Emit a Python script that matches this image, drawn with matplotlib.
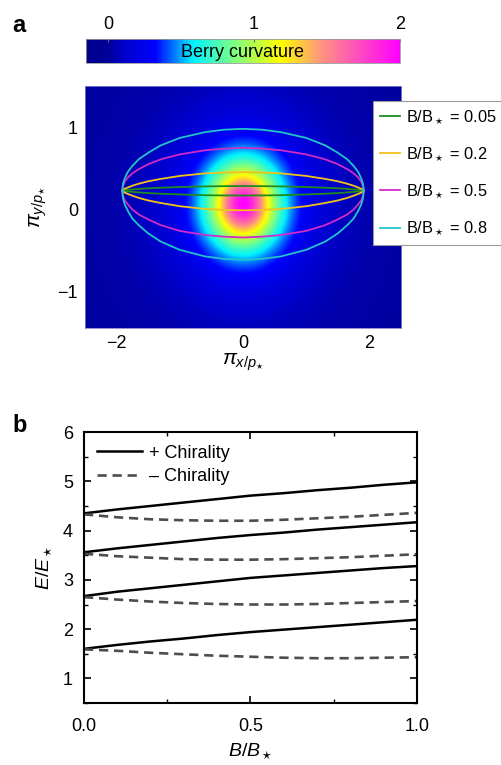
import numpy as np
import matplotlib
matplotlib.use("Agg")
import matplotlib.pyplot as plt
from matplotlib.colors import LinearSegmentedColormap

plt.rcParams['font.family'] = ['Liberation Sans', 'DejaVu Sans']
plt.rcParams['mathtext.fontset'] = 'custom'
plt.rcParams['mathtext.rm'] = 'Liberation Sans'
plt.rcParams['mathtext.it'] = 'Liberation Sans:italic'
plt.rcParams['mathtext.bf'] = 'Liberation Sans:bold'

# ---- panel a: Berry curvature map + orbits ----
# Berry curvature peak / shape parameters
omega_peak = 2.0
omega_center = (0.0, 0.06)
omega_width = (0.60, 0.55)
omega_min, omega_max = -0.15, 2.0

orbit_half_x = [-1.91, -1.9, -1.87, -1.82, -1.75, -1.65, -1.5, -1.3, -1.0, -0.6, -0.3, 0.0]
orbit_labels = ["0.05", "0.2", "0.5", "0.8"]
orbit_colors = ['#1e8c1e', '#f2c21c', '#d22cc8', '#22c4cc']
orbit_top_half = [
    [0.23, 0.233, 0.236, 0.239, 0.244, 0.25, 0.258, 0.265, 0.273, 0.281, 0.284, 0.285],
    [0.23, 0.241, 0.252, 0.268, 0.289, 0.313, 0.343, 0.372, 0.408, 0.439, 0.45, 0.455],
    [0.23, 0.28, 0.34, 0.39, 0.44, 0.49, 0.55, 0.61, 0.67, 0.72, 0.74, 0.75],
    [0.23, 0.31, 0.38, 0.46, 0.53, 0.61, 0.69, 0.78, 0.87, 0.94, 0.97, 0.98],
]
orbit_bottom_half = [
    [0.23, 0.227, 0.224, 0.22, 0.214, 0.208, 0.2, 0.192, 0.183, 0.174, 0.171, 0.17],
    [0.23, 0.218, 0.206, 0.189, 0.168, 0.141, 0.11, 0.079, 0.04, 0.007, -0.005, -0.01],
    [0.23, 0.17, 0.11, 0.06, 0.0, -0.06, -0.12, -0.19, -0.26, -0.31, -0.33, -0.34],
    [0.23, 0.14, 0.06, -0.02, -0.11, -0.19, -0.29, -0.39, -0.49, -0.57, -0.60, -0.61],
]

# ---- panel b: Landau levels vs field ----
B = [0.0, 0.1, 0.2, 0.3, 0.4, 0.5, 0.6, 0.7, 0.8, 0.9, 1.0]
plus_levels = [
    [1.60, 1.68, 1.75, 1.81, 1.88, 1.94, 1.99, 2.04, 2.09, 2.14, 2.19],
    [2.67, 2.76, 2.83, 2.90, 2.97, 3.04, 3.09, 3.14, 3.19, 3.24, 3.28],
    [3.56, 3.64, 3.71, 3.78, 3.85, 3.91, 3.96, 4.02, 4.07, 4.12, 4.17],
    [4.35, 4.43, 4.50, 4.57, 4.64, 4.71, 4.76, 4.82, 4.87, 4.93, 4.98],
]
minus_levels = [
    [1.59, 1.56, 1.52, 1.49, 1.46, 1.44, 1.42, 1.41, 1.41, 1.42, 1.43],
    [2.65, 2.60, 2.56, 2.53, 2.51, 2.50, 2.50, 2.51, 2.53, 2.55, 2.57],
    [3.53, 3.48, 3.45, 3.42, 3.41, 3.41, 3.42, 3.44, 3.46, 3.49, 3.52],
    [4.33, 4.27, 4.23, 4.21, 4.20, 4.20, 4.22, 4.25, 4.28, 4.32, 4.36],
]

cmap = LinearSegmentedColormap.from_list("berry", [
    (0.00, (0.0, 0.0, 0.55)),
    (0.07, (0.0, 0.0, 0.60)),
    (0.12, (0.0, 0.0, 0.80)),
    (0.22, (0.0, 0.0, 1.0)),
    (0.34, (0.0, 0.95, 1.0)),
    (0.46, (0.45, 1.0, 0.55)),
    (0.62, (1.0, 1.0, 0.0)),
    (0.75, (1.0, 0.58, 0.5)),
    (0.87, (1.0, 0.3, 0.75)),
    (1.00, (1.0, 0.0, 1.0)),
])

fig = plt.figure(figsize=(5.02, 7.65), dpi=100)

xx, yy = np.meshgrid(np.linspace(-2.5, 2.5, 400), np.linspace(-1.44, 1.5, 300))
s = ((xx - omega_center[0]) / omega_width[0])**2 + ((yy - omega_center[1]) / omega_width[1])**2
omega = omega_peak / (1 + s)**1.5

ax1 = fig.add_axes([0.1693, 0.5712, 0.6295, 0.3163])
im = ax1.imshow(omega, extent=[-2.5, 2.5, -1.44, 1.5], origin='lower', aspect='auto',
                cmap=cmap, vmin=omega_min, vmax=omega_max, interpolation='bilinear')
ox = np.concatenate([orbit_half_x, -np.array(orbit_half_x[-2::-1])])
handles = []
for i in range(len(orbit_labels)):
    top = np.concatenate([orbit_top_half[i], orbit_top_half[i][-2::-1]])
    bot = np.concatenate([orbit_bottom_half[i], orbit_bottom_half[i][-2::-1]])
    h, = ax1.plot(ox, top, color=orbit_colors[i], lw=1.3)
    ax1.plot(ox, bot, color=orbit_colors[i], lw=1.3)
    handles.append(h)
ax1.set_xlim(-2.5, 2.5)
ax1.set_ylim(-1.44, 1.5)
ax1.set_xticks([-2, 0, 2])
ax1.set_xticklabels(['\u22122', '0', '2'])
ax1.set_yticks([-1, 0, 1])
ax1.set_yticklabels(['\u22121', '0', '1'])
ax1.tick_params(length=0, labelsize=13, pad=5)
for sp in ax1.spines.values():
    sp.set_color('#8080d0')
    sp.set_linewidth(0.6)
ax1.set_xlabel(r'$\pi_{x/p_{\star}}$', fontsize=15, labelpad=0)
ax1.set_ylabel(r'$\pi_{y/p_{\star}}$', fontsize=15, labelpad=6)
leg = ax1.legend(handles, [r'B/B$_\star$ = ' + l for l in orbit_labels],
                 loc='upper left', bbox_to_anchor=(0.911, 0.938), fontsize=11.8,
                 handlelength=1.2, handletextpad=0.4, labelspacing=1.15,
                 fancybox=False, framealpha=1, edgecolor='#999999', borderpad=0.45,
                 borderaxespad=0)
leg.get_frame().set_linewidth(0.8)

cax = fig.add_axes([0.1713, 0.9176, 0.6255, 0.0314])
cb = fig.colorbar(im, cax=cax, orientation='horizontal', ticks=[0, 1, 2])
cb.outline.set_edgecolor('#999999')
cb.outline.set_linewidth(0.6)
cax.xaxis.set_ticks_position('top')
cax.tick_params(direction='in', length=2, labelsize=13, pad=4, color='#666666')
cax.text(0.5, 0.45, 'Berry curvature', transform=cax.transAxes, ha='center', va='center',
         fontsize=13)

# panel b
ax2 = fig.add_axes([0.1673, 0.0810, 0.6633, 0.3542])
for i in range(len(plus_levels)):
    ax2.plot(B, plus_levels[i], color='black', lw=1.8,
             label='+ Chirality' if i == 0 else None)
    ax2.plot(B, minus_levels[i], color='#4d4d4d', lw=1.9, linestyle=(0, (3.5, 2.2)),
             label='\u2013 Chirality' if i == 0 else None)
ax2.set_xlim(0, 1)
ax2.set_ylim(0.5, 6)
ax2.set_xticks([0, 0.5, 1.0])
ax2.set_xticklabels(['0.0', '0.5', '1.0'])
ax2.set_yticks([1, 2, 3, 4, 5, 6])
ax2.set_xticks([0.25, 0.75], minor=True)
ax2.set_yticks(np.arange(0.5, 6.0, 0.5), minor=True)
ax2.tick_params(which='both', direction='in', top=True, right=True, labelsize=13)
ax2.tick_params(which='major', length=5, width=1.2, pad=8)
ax2.tick_params(axis='x', which='major', pad=11)
ax2.tick_params(which='minor', length=3, width=1.0)
for sp in ax2.spines.values():
    sp.set_linewidth(1.5)
ax2.set_xlabel(r'$B/B_\star$', fontsize=14, labelpad=4)
ax2.set_ylabel(r'$E/E_\star$', fontsize=14, labelpad=6)
ax2.legend(loc='upper left', frameon=False, fontsize=13, handlelength=2.5,
           handletextpad=0.4, borderaxespad=0.3, labelspacing=0.35)

fig.text(0.024, 0.967, 'a', fontsize=17, fontweight='bold', va='center')
fig.text(0.024, 0.444, 'b', fontsize=17, fontweight='bold', va='center')

fig.savefig('out.png', dpi=100)
